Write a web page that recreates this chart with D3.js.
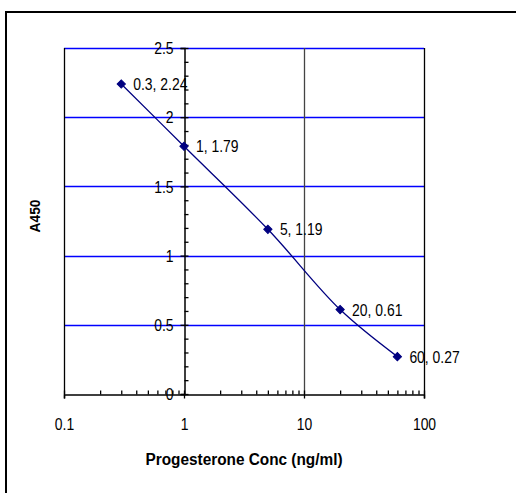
<!DOCTYPE html>
<html>
<head>
<style>
  body { margin: 0; background: #fff; }
  svg text { font-family: "Liberation Sans", Arial, sans-serif; fill: #000; }
</style>
</head>
<body>
<svg width="516" height="493"></svg>
<script src="https://d3js.org/d3.v7.min.js"></script>
<script>
// data
const conc = [0.3, 1, 5, 20, 60];
const a450 = [2.24, 1.79, 1.19, 0.61, 0.27];
const xTicks = [0.1, 1, 10, 100];
const xTickLabels = ["0.1", "1", "10", "100"];
const yTicks = [0, 0.5, 1, 1.5, 2, 2.5];
const yTickLabels = ["0", "0.5", "1", "1.5", "2", "2.5"];
const yMinor = [0.1,0.2,0.3,0.4,0.6,0.7,0.8,0.9,1.1,1.2,1.3,1.4,1.6,1.7,1.8,1.9,2.1,2.2,2.3,2.4];
const xMinor = [0.2,0.3,0.4,0.5,0.6,0.7,0.8,0.9,2,3,4,5,6,7,8,9,20,30,40,50,60,70,80,90];

const svg = d3.select("svg");
const sx = 0.87; // narrow look of the original lettering

// outer frame
svg.append("rect")
  .attr("x", 6).attr("y", 12)
  .attr("width", 530).attr("height", 510)
  .attr("fill", "none").attr("stroke", "#000").attr("stroke-width", 2);

const x = d3.scaleLog().domain([0.1, 100]).range([64, 424]);
const y = d3.scaleLinear().domain([0, 2.5]).range([394, 48]);

// horizontal gridlines (blue)
svg.append("g")
  .selectAll("line")
  .data(yTicks.filter(d => d > 0))
  .enter().append("line")
    .attr("x1", x(0.1)).attr("x2", x(100))
    .attr("y1", d => Math.round(y(d)) + 0.5).attr("y2", d => Math.round(y(d)) + 0.5)
    .attr("stroke", "#0000ff").attr("stroke-width", 1.3);

// vertical gridlines (dark)
svg.append("g")
  .selectAll("line")
  .data([0.1, 10, 100])
  .enter().append("line")
    .attr("x1", d => Math.round(x(d)) + 0.5).attr("x2", d => Math.round(x(d)) + 0.5)
    .attr("y1", y(2.5)).attr("y2", y(0))
    .attr("stroke", d => d == 10 ? "#444" : "#000").attr("stroke-width", 1.3);

// x axis, crossing at y = 0
const xAxis = svg.append("g")
  .attr("transform", `translate(0,${Math.round(y(0)) + 0.5})`)
  .call(d3.axisBottom(x).tickValues(xTicks).tickFormat((d, i) => xTickLabels[i]).tickSize(4).tickPadding(20));
xAxis.select(".domain").attr("stroke", "#000").attr("stroke-width", 1.5);
xAxis.selectAll(".tick line").attr("y1", -4).attr("stroke-width", 1.3);
xAxis.selectAll(".tick text")
  .attr("font-size", 16).attr("font-family", null)
  .attr("y", 0).attr("dy", null)
  .attr("transform", `translate(0,35) scale(${sx},1)`);

svg.append("g")
  .attr("transform", `translate(0,${Math.round(y(0)) + 0.5})`)
  .call(d3.axisTop(x).tickValues(xMinor).tickFormat("").tickSize(4))
  .call(g => g.select(".domain").remove())
  .selectAll("line").attr("stroke-width", 1.3);

// y axis, crossing at x = 1
const yAxis = svg.append("g")
  .attr("transform", `translate(${Math.round(x(1)) + 0.5},0)`)
  .call(d3.axisLeft(y).tickValues(yTicks).tickFormat((d, i) => yTickLabels[i]).tickSize(4).tickPadding(7));
yAxis.select(".domain").attr("stroke", "#000").attr("stroke-width", 1.5);
yAxis.selectAll(".tick line").attr("x1", 4).attr("stroke-width", 1.3);
yAxis.selectAll(".tick text")
  .attr("font-size", 16).attr("font-family", null)
  .attr("x", 0).attr("dy", "0.36em")
  .attr("transform", `translate(-11,0) scale(${sx},1)`);

svg.append("g")
  .attr("transform", `translate(${Math.round(x(1)) + 0.5},0)`)
  .call(d3.axisRight(y).tickValues(yMinor).tickFormat("").tickSize(4))
  .call(g => g.select(".domain").remove())
  .selectAll("line").attr("stroke-width", 1.3);

// series line
const pts = conc.map((c, i) => [c, a450[i]]);
svg.append("path")
  .datum(pts)
  .attr("fill", "none")
  .attr("stroke", "#000080")
  .attr("stroke-width", 1.3)
  .attr("d", d3.line().x(d => x(d[0])).y(d => y(d[1])).curve(d3.curveCatmullRom.alpha(0.5)));

// diamond markers
svg.append("g")
  .selectAll("path")
  .data(pts)
  .enter().append("path")
    .attr("d", d3.symbol(d3.symbolSquare, 34))
    .attr("transform", d => `translate(${x(d[0])},${y(d[1])}) rotate(45)`)
    .attr("fill", "#000080").attr("stroke", "#000080").attr("stroke-width", 1);

// data labels
svg.append("g")
  .selectAll("text")
  .data(pts)
  .enter().append("text")
    .attr("font-size", 16)
    .attr("transform", d => `translate(${x(d[0]) + 12},${y(d[1]) + 6}) scale(${sx},1)`)
    .text(d => d[0] + ", " + d[1]);

// axis titles
svg.append("text")
  .attr("font-size", 16).attr("font-weight", "bold")
  .attr("text-anchor", "middle")
  .attr("transform", "translate(244,465) scale(0.96,1)")
  .text("Progesterone Conc (ng/ml)");

svg.append("text")
  .attr("font-size", 15).attr("font-weight", "bold")
  .attr("text-anchor", "middle")
  .attr("transform", "translate(40,216) rotate(-90) scale(0.92,1)")
  .text("A450");
</script>
</body>
</html>
